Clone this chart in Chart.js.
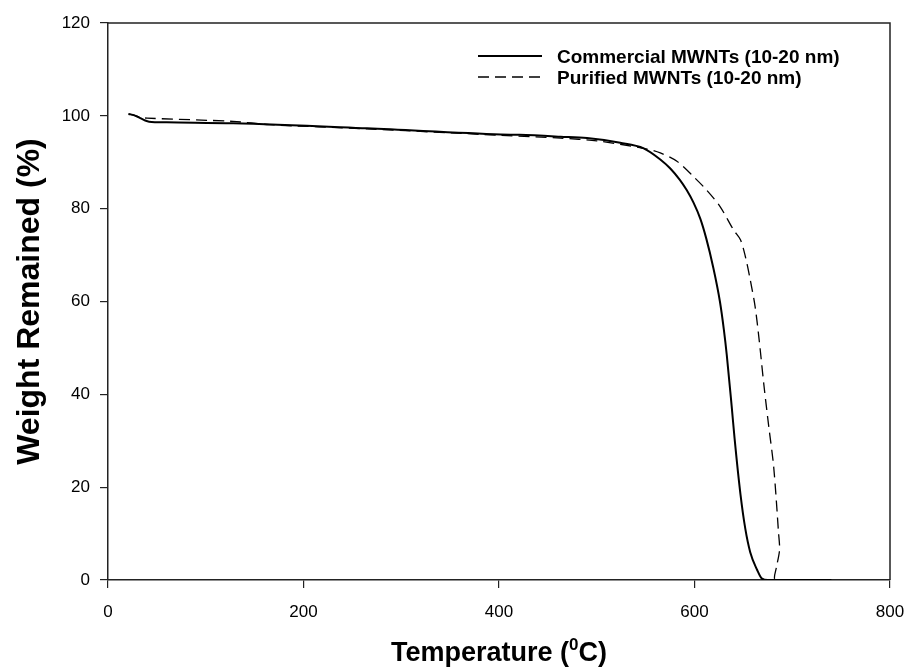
<!DOCTYPE html>
<html>
<head>
<meta charset="utf-8">
<script src="https://cdn.jsdelivr.net/npm/chart.js@4.4.1/dist/chart.umd.min.js"></script>
<style>
html, body { margin: 0; padding: 0; background: #fff; }
#wrap { width: 912px; height: 671px; }
</style>
</head>
<body>
<div id="wrap"><canvas id="c"></canvas></div>
<script>
// 資料：溫度 (°C) 與 殘留重量 (%)
const commercialTemp = [21, 27, 33, 38, 42, 60, 128, 265, 402, 421, 463, 490, 524, 548, 565, 575, 585, 592, 599, 606, 612, 619, 626, 630, 633, 638, 641, 647, 652, 657, 664, 669, 675, 740];
const commercialWeight = [100.4, 100.1, 99.5, 99.0, 98.75, 98.6, 98.4, 97.3, 96.0, 95.9, 95.5, 95.2, 94.2, 93.0, 90.6, 88.7, 86.2, 84.0, 81.3, 77.8, 73.6, 67.5, 60, 54, 48.5, 37.5, 30.5, 18.5, 11, 6, 2.2, 0.3, 0, 0];

const purifiedTemp = [21, 27, 33, 40, 128, 165, 265, 402, 463, 500, 548, 565, 582, 599, 612, 626, 640, 647, 652, 657, 662, 666, 671, 676, 681, 686, 687, 684, 682, 690, 740];
const purifiedWeight = [100.4, 100.1, 99.7, 99.5, 98.8, 98.1, 97.2, 95.8, 95.2, 94.6, 93.0, 92.0, 90.2, 86.9, 84.1, 80.5, 75.4, 73.3, 69.7, 64.7, 58.9, 52, 42, 33, 24.4, 10.1, 6.5, 2.9, 0.2, 0, 0];

const seriesNames = ['Commercial MWNTs (10-20 nm)', 'Purified MWNTs (10-20 nm)'];
const xTicks = [0, 200, 400, 600, 800];
const yTicks = [0, 20, 40, 60, 80, 100, 120];

const FONT = "Arial, 'Liberation Sans', sans-serif";

// 組合 (x, y) 點
function toPoints(xs, ys) {
    return xs.map((x, i) => ({ x: x, y: ys[i] }));
}

// 外框 (上、右)
const framePlugin = {
    id: 'frame',
    afterDraw(chart) {
        const { ctx, chartArea: a } = chart;
        ctx.save();
        ctx.strokeStyle = '#222';
        ctx.lineWidth = 1.5;
        ctx.beginPath();
        ctx.moveTo(a.left, a.top);
        ctx.lineTo(a.right, a.top);
        ctx.lineTo(a.right, a.bottom);
        ctx.stroke();
        ctx.restore();
    }
};

// 圖例 (畫在圖內右上)
const legendPlugin = {
    id: 'innerLegend',
    afterDraw(chart) {
        const { ctx } = chart;
        ctx.save();
        ctx.font = 'bold 19px ' + FONT;
        ctx.fillStyle = '#000';
        ctx.textBaseline = 'middle';
        chart.data.datasets.forEach((ds, i) => {
            const y = 58 + i * 21;
            ctx.strokeStyle = ds.borderColor;
            ctx.lineWidth = ds.borderWidth;
            ctx.setLineDash(ds.borderDash || []);
            ctx.beginPath();
            ctx.moveTo(478, y - 2);
            ctx.lineTo(542, y - 2);
            ctx.stroke();
            ctx.setLineDash([]);
            ctx.fillText(ds.label, 557, y);
        });
        ctx.restore();
    }
};

// x 軸標題 (含上標)
const xTitlePlugin = {
    id: 'xTitle',
    afterDraw(chart) {
        const { ctx, chartArea: a } = chart;
        const big = 'bold 27px ' + FONT;
        const small = 'bold 17px ' + FONT;
        const p1 = 'Temperature (', p2 = '0', p3 = 'C)';
        ctx.save();
        ctx.fillStyle = '#000';
        ctx.textBaseline = 'alphabetic';
        ctx.font = big;
        const w1 = ctx.measureText(p1).width, w3 = ctx.measureText(p3).width;
        ctx.font = small;
        const w2 = ctx.measureText(p2).width;
        let x = (a.left + a.right) / 2 - (w1 + w2 + w3) / 2;
        const base = 661;
        ctx.font = big;
        ctx.fillText(p1, x, base);
        x += w1;
        ctx.font = small;
        ctx.fillText(p2, x, base - 11);
        x += w2;
        ctx.font = big;
        ctx.fillText(p3, x, base);
        ctx.restore();
    }
};

const config = {
    type: 'line',
    data: {
        datasets: [{
            label: seriesNames[0],
            data: toPoints(commercialTemp, commercialWeight),
            borderColor: '#000',
            borderWidth: 2,
            pointRadius: 0,
            cubicInterpolationMode: 'monotone',
            fill: false
        }, {
            label: seriesNames[1],
            data: toPoints(purifiedTemp, purifiedWeight),
            borderColor: '#000',
            borderWidth: 1.3,
            borderDash: [11, 6],
            pointRadius: 0,
            tension: 0.3,
            fill: false
        }]
    },
    options: {
        responsive: true,
        maintainAspectRatio: false,
        animation: false,
        devicePixelRatio: 1,
        layout: { padding: { top: 23, right: 22, left: 0, bottom: 0 } },
        plugins: {
            legend: { display: false },
            tooltip: { enabled: false }
        },
        scales: {
            x: {
                type: 'linear',
                min: 0,
                max: 800,
                afterBuildTicks: (s) => { s.ticks = xTicks.map(v => ({ value: v })); },
                afterFit: (s) => { s.height = 91; s.paddingLeft = 0; s.paddingRight = 0; },
                border: { color: '#222', width: 1.5 },
                grid: { drawOnChartArea: false, tickLength: 8, color: '#222', lineWidth: 1.2 },
                ticks: { color: '#000', font: { family: FONT, size: 17 }, padding: 14 }
            },
            y: {
                min: 0,
                max: 120,
                afterBuildTicks: (s) => { s.ticks = yTicks.map(v => ({ value: v })); },
                afterFit: (s) => { s.width = 108; s.paddingTop = 0; s.paddingBottom = 0; },
                border: { color: '#222', width: 1.5 },
                grid: { drawOnChartArea: false, tickLength: 8, color: '#222', lineWidth: 1.2 },
                ticks: { color: '#000', font: { family: FONT, size: 17 }, padding: 10 },
                title: {
                    display: true,
                    text: 'Weight Remained (%)',
                    color: '#000',
                    font: { family: FONT, size: 32, weight: 'bold' },
                    padding: { top: 11 }
                }
            }
        }
    },
    plugins: [framePlugin, legendPlugin, xTitlePlugin]
};

new Chart(document.getElementById('c'), config);
</script>
</body>
</html>
